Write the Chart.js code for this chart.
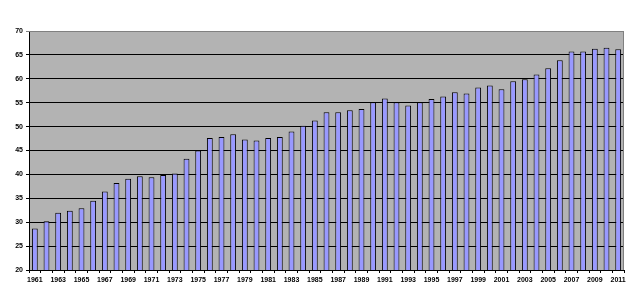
<!DOCTYPE html>
<html>
<head>
<meta charset="utf-8">
<script src="https://cdn.jsdelivr.net/npm/chart.js@4/dist/chart.umd.min.js"></script>
<style>
  html, body { margin: 0; padding: 0; background: #fff; }
  #wrap { width: 631px; height: 289px; }
</style>
</head>
<body>
<div id="wrap"><canvas id="chart" width="631" height="289"></canvas></div>
<script>
// years 1961..2011
const years = [];
for (let y = 1961; y <= 2011; y++) years.push(String(y));

const values = [
  28.7, 30.2, 32.0, 32.4, 32.9, 34.5, 36.4, 38.2, 39.1, 39.6,
  39.4, 39.9, 40.2, 43.3, 45.0, 47.6, 47.8, 48.4, 47.3, 47.1,
  47.6, 47.8, 49.0, 50.2, 51.3, 53.0, 53.0, 53.4, 53.7, 55.1,
  55.9, 55.1, 54.4, 55.1, 55.8, 56.3, 57.2, 56.9, 58.2, 58.6,
  57.8, 59.5, 59.9, 60.9, 62.2, 63.9, 65.7, 65.7, 66.3, 66.5,
  66.2
];

const yTicks = [20, 25, 30, 35, 40, 45, 50, 55, 60, 65, 70];

// gray plot area + gray frame on top/right like the excel chart
const plotBg = {
  id: 'plotBg',
  beforeDraw(chart) {
    const { ctx, chartArea: a } = chart;
    ctx.save();
    ctx.fillStyle = '#b3b3b3';
    ctx.fillRect(a.left, a.top, a.right - a.left, a.bottom - a.top);
    ctx.restore();
  },
  afterDatasetsDraw(chart) {
    const { ctx, chartArea: a } = chart;
    ctx.save();
    ctx.strokeStyle = '#808080';
    ctx.lineWidth = 1;
    ctx.beginPath();
    ctx.moveTo(a.left, a.top + 0.5);
    ctx.lineTo(a.right - 0.5, a.top + 0.5);
    ctx.lineTo(a.right - 0.5, a.bottom);
    ctx.stroke();
    ctx.restore();
  }
};

const tickFont = { family: 'Liberation Sans, Arial, sans-serif', size: 7, weight: 'bold' };

new Chart(document.getElementById('chart'), {
  type: 'bar',
  data: {
    labels: years,
    datasets: [{
      data: values,
      backgroundColor: '#9999ff',
      borderColor: '#000000',
      borderWidth: 1,
      barPercentage: 0.5,
      categoryPercentage: 1.0
    }]
  },
  options: {
    responsive: false,
    animation: false,
    layout: { padding: { left: 0, top: 31, right: 7, bottom: 0 } },
    plugins: {
      legend: { display: false },
      tooltip: { enabled: false }
    },
    scales: {
      x: {
        grid: {
          display: true,
          drawOnChartArea: false,
          drawTicks: true,
          tickLength: 3,
          color: '#000000',
          offset: true
        },
        border: { display: true, color: '#000000', width: 1 },
        ticks: {
          font: tickFont,
          color: '#000000',
          autoSkip: false,
          maxRotation: 0,
          minRotation: 0,
          padding: 3,
          callback: function (val, i) { return i % 2 === 0 ? years[i] : ''; }
        },
        afterFit(scale) { scale.height = 19; }
      },
      y: {
        min: 20,
        max: 70,
        afterBuildTicks(scale) { scale.ticks = yTicks.map(v => ({ value: v })); },
        grid: {
          color: ctx => (ctx.tick && ctx.tick.value === 70 ? '#808080' : '#000000'),
          lineWidth: 1,
          tickLength: 3,
          drawTicks: true
        },
        border: { display: true, color: '#000000', width: 1 },
        ticks: { font: tickFont, color: '#000000', padding: 3 },
        afterFit(scale) { scale.width = 29; }
      }
    }
  },
  plugins: [plotBg]
});
</script>
</body>
</html>
